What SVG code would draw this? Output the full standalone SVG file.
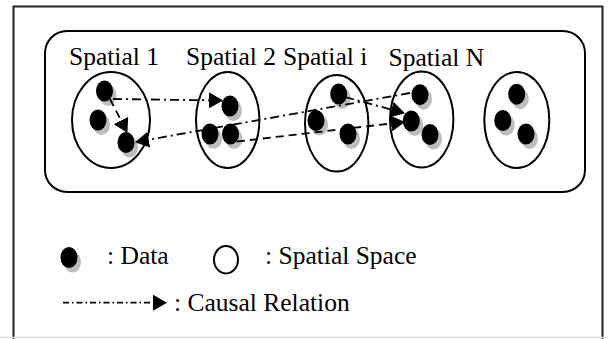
<svg xmlns="http://www.w3.org/2000/svg" width="608" height="339" viewBox="0 0 608 339">
<style>
.t{font-family:"Liberation Serif","Times New Roman",serif;font-size:25.5px;fill:#000}
.sp{fill:none;stroke:#000;stroke-width:2}
.dot{fill:#000}
.sh{fill:#bdbdbd}
.dd{fill:none;stroke:#000;stroke-width:1.8;stroke-dasharray:9 4 2 4}
.ds{fill:none;stroke:#000;stroke-width:1.8;stroke-dasharray:8 5}
</style>
<defs>
<marker id="ah" markerUnits="userSpaceOnUse" markerWidth="14" markerHeight="16" refX="13" refY="8" orient="auto" viewBox="0 0 14 16">
<path d="M0,0 L14,8 L0,16 Z" fill="#000"/>
</marker>
<g id="d">
<ellipse class="sh" cx="3.5" cy="4.5" rx="8.5" ry="10.5"/>
<ellipse class="dot" cx="0" cy="0" rx="8.5" ry="10.5"/>
</g>
</defs>
<rect width="608" height="339" fill="#fff"/>
<g id="frame">
<path d="M13.5,339 V6.5 H602.5 V339" fill="none" stroke="#222" stroke-width="2"/>
<line x1="0" y1="337.5" x2="608" y2="337.5" stroke="#ddd" stroke-width="1.5"/>
</g>
<g id="container">
<rect x="45" y="31" width="540" height="161" rx="22" ry="22" fill="none" stroke="#000" stroke-width="2"/>
</g>
<g id="spatial1">
<text class="t" x="69" y="65">Spatial 1</text>
<ellipse class="sp" cx="111" cy="120" rx="39" ry="48"/>
<use href="#d" x="104.5" y="91"/>
<use href="#d" x="98" y="120"/>
<use href="#d" x="126" y="142.5"/>
</g>
<g id="spatial2">
<text class="t" x="186" y="65">Spatial 2</text>
<ellipse class="sp" cx="227.7" cy="120" rx="31.7" ry="48"/>
<use href="#d" x="230" y="106"/>
<use href="#d" x="210" y="134"/>
<use href="#d" x="230.5" y="134"/>
</g>
<g id="spatiali">
<text class="t" x="283" y="65">Spatial i</text>
<ellipse class="sp" cx="336.7" cy="123.3" rx="31.7" ry="48.3"/>
<use href="#d" x="338.7" y="94"/>
<use href="#d" x="316" y="120.5"/>
<use href="#d" x="348" y="134"/>
</g>
<g id="spatialN">
<text class="t" x="388.5" y="65.5">Spatial N</text>
<ellipse class="sp" cx="421.7" cy="119.5" rx="31.7" ry="48"/>
<use href="#d" x="420" y="94.7"/>
<use href="#d" x="411.3" y="121"/>
<use href="#d" x="430" y="134.5"/>
</g>
<g id="spatial5">
<ellipse class="sp" cx="516.8" cy="120" rx="32.5" ry="48"/>
<use href="#d" x="516.7" y="94.2"/>
<use href="#d" x="502.8" y="120.5"/>
<use href="#d" x="526" y="134"/>
</g>
<g id="connectors">
<line class="dd" x1="113" y1="99" x2="222" y2="100.5" marker-end="url(#ah)"/>
<line class="ds" x1="110" y1="99" x2="127" y2="132" marker-end="url(#ah)"/>
<line class="dd" x1="410" y1="93" x2="136" y2="142" marker-end="url(#ah)"/>
<line class="ds" x1="237" y1="141.5" x2="404" y2="122" marker-end="url(#ah)"/>
<line class="dd" x1="345" y1="97" x2="404" y2="113" marker-end="url(#ah)"/>
</g>
<g id="legend">
<use href="#d" x="69" y="257.5"/>
<text class="t" x="107" y="264">: Data</text>
<ellipse class="sp" cx="226" cy="259.7" rx="12" ry="13.7"/>
<text class="t" x="265" y="264">: Spatial Space</text>
<line x1="63" y1="302.7" x2="166" y2="302.7" stroke="#000" stroke-width="1.8" stroke-dasharray="6 3 1.5 3" marker-end="url(#ah)"/>
<text class="t" x="174" y="311">: Causal Relation</text>
</g>
</svg>
